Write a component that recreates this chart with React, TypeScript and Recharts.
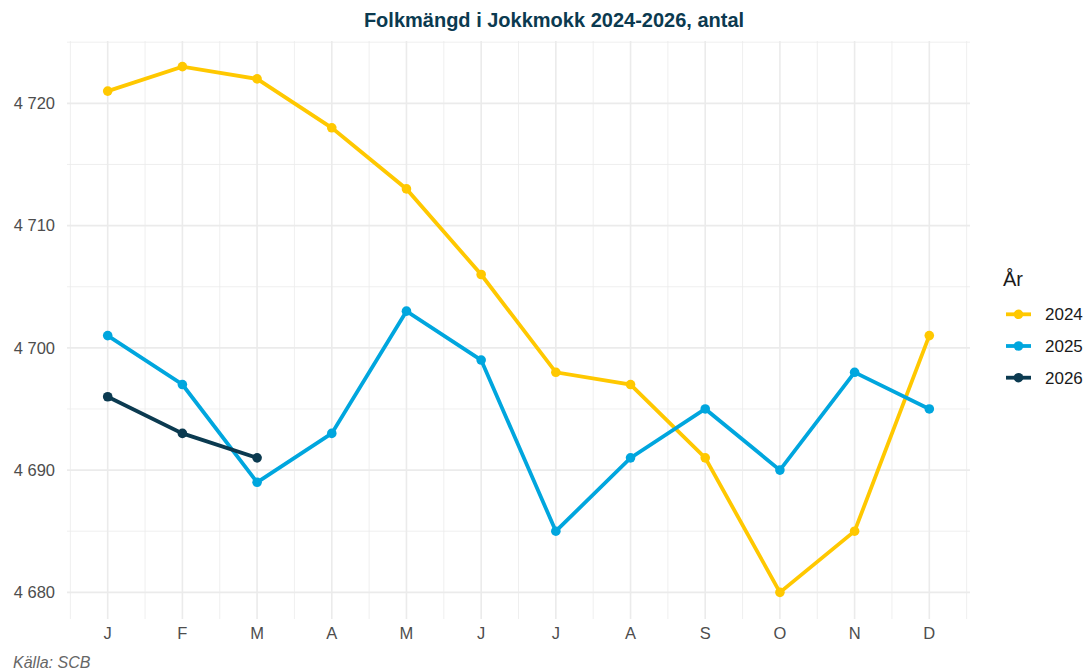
import React from "react";
import { LineChart, Line, XAxis, YAxis, CartesianGrid } from "recharts";

const months = ["J", "F", "M", "A", "M", "J", "J", "A", "S", "O", "N", "D"];
const values2024 = [4721, 4723, 4722, 4718, 4713, 4706, 4698, 4697, 4691, 4680, 4685, 4701];
const values2025 = [4701, 4697, 4689, 4693, 4703, 4699, 4685, 4691, 4695, 4690, 4698, 4695];
const values2026 = [4696, 4693, 4691];
const yTicks = [4680, 4690, 4700, 4710, 4720];
const yMinor = [4685, 4695, 4705, 4715, 4725];
const xTicks = months.map((_, i) => i + 1);
const xMinor = [0.5, 1.5, 2.5, 3.5, 4.5, 5.5, 6.5, 7.5, 8.5, 9.5, 10.5, 11.5, 12.5];

const data = months.map((m, i) => ({
  idx: i + 1,
  label: m,
  y2024: values2024[i],
  y2025: values2025[i],
  y2026: i < values2026.length ? values2026[i] : null,
}));

const series = [
  { key: "y2024", name: "2024", color: "#FFC800" },
  { key: "y2025", name: "2025", color: "#00A6DE" },
  { key: "y2026", name: "2026", color: "#0B3A50" },
];
const FONT = "'Liberation Sans', Arial, Helvetica, sans-serif";

const fmt = (v: number) => {
  const s = String(Math.round(v));
  return s.replace(/\B(?=(\d{3})+(?!\d))/g, " ");
};

export default function App() {
  return (
    <div style={{ position: "relative", width: 1088, height: 671, fontFamily: FONT, overflow: "hidden" }}>
      <style>{`html,body{margin:0;padding:0;overflow:hidden;}`}</style>
      <LineChart
        width={1088}
        height={671}
        data={data}
        margin={{ top: 41, right: 118, bottom: 22, left: 0 }}
      >
        <CartesianGrid
          stroke="#ebebeb"
          strokeWidth={0.8}
          horizontalValues={yMinor}
          verticalValues={xMinor}
        />
        <CartesianGrid
          stroke="#ebebeb"
          strokeWidth={1.6}
          horizontalValues={yTicks}
          verticalValues={xTicks}
        />
        <XAxis
          dataKey="idx"
          type="number"
          domain={[0.455, 12.545]}
          ticks={xTicks}
          tickFormatter={(v: number) => months[v - 1]}
          axisLine={false}
          tickLine={false}
          tickSize={0}
          tickMargin={8}
          height={30}
          interval={0}
          allowDataOverflow
          tick={{ fill: "#4d4d4d", fontSize: 16.5, fontFamily: FONT }}
        />
        <YAxis
          type="number"
          domain={[4677.82, 4725.1]}
          ticks={yTicks}
          tickFormatter={fmt}
          axisLine={false}
          tickLine={false}
          tickSize={0}
          tickMargin={12}
          width={67}
          allowDataOverflow
          tick={{ fill: "#4d4d4d", fontSize: 16.5, fontFamily: FONT }}
        />
        {series.map((s) => (
          <Line
            key={s.key}
            dataKey={s.key}
            name={s.name}
            stroke={s.color}
            strokeWidth={3.8}
            dot={{ r: 4.8, fill: s.color, stroke: s.color, strokeWidth: 0 }}
            activeDot={false}
            isAnimationActive={false}
          />
        ))}
      </LineChart>
      <svg
        width={1088}
        height={671}
        style={{ position: "absolute", left: 0, top: 0, pointerEvents: "none" }}
      >
        <text
          x={554}
          y={26.7}
          textAnchor="middle"
          fontSize={20}
          fontWeight="bold"
          fill="#0B3A50"
          fontFamily={FONT}
        >
          Folkmängd i Jokkmokk 2024-2026, antal
        </text>
        <g transform="translate(990, 255)">
          <text x={13} y={31} fontSize={20} fill="#1a1a1a" fontFamily={FONT}>
            År
          </text>
          {series.map((s, i) => {
            const cy = 59.3 + 31.7 * i;
            return (
              <g key={s.key}>
                <line x1={16} x2={41} y1={cy} y2={cy} stroke={s.color} strokeWidth={3.8} />
                <circle cx={28.5} cy={cy} r={4.8} fill={s.color} />
                <text x={55} y={cy + 6} fontSize={17} fill="#1a1a1a" fontFamily={FONT}>
                  {s.name}
                </text>
              </g>
            );
          })}
        </g>
        <text x={13} y={668} fontSize={16} fontStyle="italic" fill="#666666" fontFamily={FONT}>
          Källa: SCB
        </text>
      </svg>
    </div>
  );
}
